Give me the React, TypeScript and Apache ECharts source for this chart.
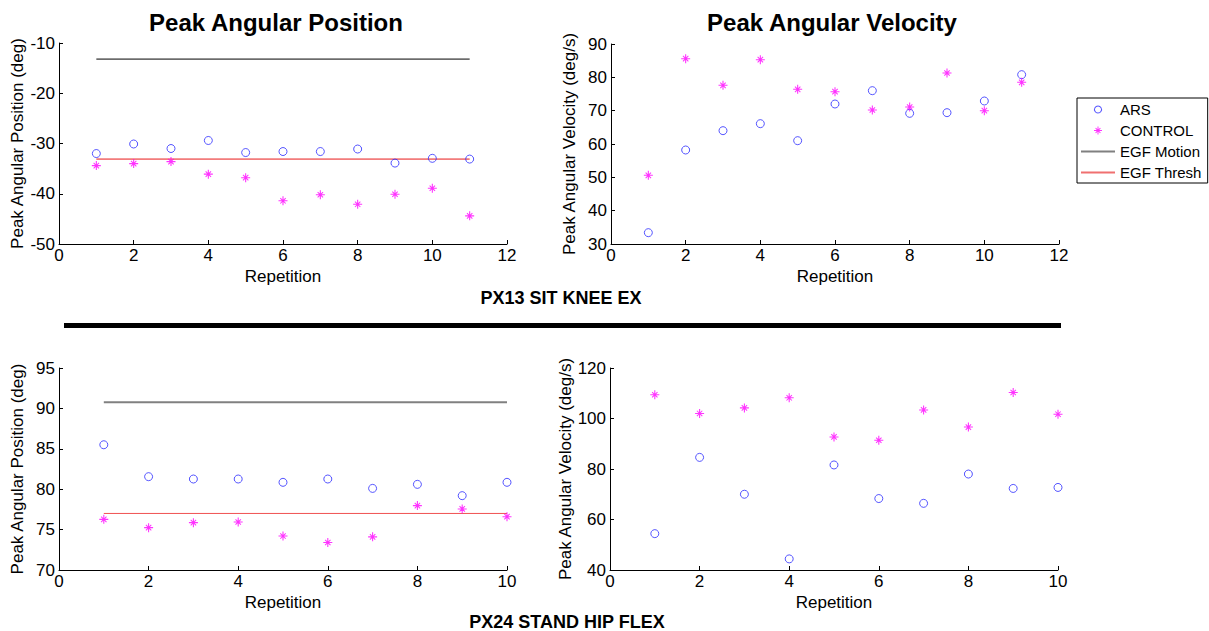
import React, { useEffect, useRef } from "react";
import * as echarts from "echarts";

const FONT = "Liberation Sans, Arial, sans-serif";

// Top: PX13 SIT KNEE EX (11 repetitions)
const repsTop = [1, 2, 3, 4, 5, 6, 7, 8, 9, 10, 11];
const posArsTop = [-32.0, -30.1, -31.0, -29.4, -31.8, -31.6, -31.6, -31.1, -33.9, -32.95, -33.1];
const posCtrlTop = [-34.4, -34.0, -33.6, -36.1, -36.8, -41.4, -40.2, -42.1, -40.1, -38.9, -44.4];
const velArsTop = [33.4, 58.2, 64.0, 66.1, 61.0, 72.0, 76.0, 69.2, 69.4, 72.9, 80.8];
const velCtrlTop = [50.6, 85.6, 77.6, 85.3, 76.4, 75.7, 70.2, 71.1, 81.3, 70.0, 78.5];
const motionTop = -13.2;
const threshTop = -33.1;

// Bottom: PX24 STAND HIP FLEX (10 repetitions)
const repsBot = [1, 2, 3, 4, 5, 6, 7, 8, 9, 10];
const posArsBot = [85.5, 81.55, 81.26, 81.26, 80.85, 81.26, 80.1, 80.6, 79.2, 80.85];
const posCtrlBot = [76.27, 75.24, 75.86, 75.94, 74.2, 73.4, 74.1, 77.97, 77.56, 76.6];
const velArsBot = [54.4, 84.6, 70.0, 44.4, 81.6, 68.3, 66.4, 78.0, 72.3, 72.7];
const velCtrlBot = [109.4, 102.0, 104.2, 108.2, 92.7, 91.4, 103.4, 96.6, 110.3, 101.7];
const motionBot = 90.75;
const threshBot = 77.0;

const ASTERISK =
  "path://M4.4,0L5.6,0L5.6,10L4.4,10ZM0,4.4L10,4.4L10,5.6L0,5.6ZM1.6,2.4L2.4,1.6L8.4,7.6L7.6,8.4ZM7.6,1.6L8.4,2.4L2.4,8.4L1.6,7.6Z";
const LINE_ICON = "path://M0,0L32,0L32,2L0,2Z";
const RING_ICON =
  "path://M5,0A5,5,0,1,1,4.99,0ZM5,1.2A3.8,3.8,0,1,0,5.01,1.2Z";

const pairs = (xs: number[], ys: number[]) => xs.map((x, i) => [x, ys[i]]);

export default function App() {
  const ref = useRef<HTMLDivElement>(null);
  useEffect(() => {
    if (!ref.current) return;
    const chart = echarts.init(ref.current, undefined, { renderer: "svg" });
    const grids = [
      { left: 59, top: 43, width: 448, height: 201 },
      { left: 611, top: 44, width: 448, height: 200 },
      { left: 59, top: 368, width: 448, height: 202 },
      { left: 610, top: 368, width: 448, height: 202 },
    ];
    const axisCommon = {
      axisLine: { show: true, onZero: false, lineStyle: { color: "#000", width: 1 } },
      axisTick: { show: true, inside: true, length: 4, lineStyle: { color: "#000" } },
      axisLabel: { color: "#000", fontSize: 17, fontFamily: FONT },
      splitLine: { show: false },
      nameTextStyle: { color: "#000", fontSize: 17, fontFamily: FONT },
    };
    const xAxes = [12, 12, 10, 10].map((max, i) => ({
      ...axisCommon,
      type: "value",
      gridIndex: i,
      min: 0,
      max,
      interval: 2,
      name: "Repetition",
      nameLocation: "middle",
      nameGap: 24,
      axisLabel: { ...axisCommon.axisLabel, margin: 3 },
    }));
    const yDefs = [
      { min: -50, max: -10, interval: 10, name: "Peak Angular Position (deg)" },
      { min: 30, max: 90, interval: 10, name: "Peak Angular Velocity (deg/s)" },
      { min: 70, max: 95, interval: 5, name: "Peak Angular Position (deg)" },
      { min: 40, max: 120, interval: 20, name: "Peak Angular Velocity (deg/s)" },
    ];
    const yAxes = yDefs.map((d, i) => ({
      ...axisCommon,
      type: "value",
      gridIndex: i,
      min: d.min,
      max: d.max,
      interval: d.interval,
      name: d.name,
      nameLocation: "middle",
      nameGap: 33,
      axisLabel: { ...axisCommon.axisLabel, margin: 4 },
    }));

    const ars = (i: number, xs: number[], ys: number[]) => ({
      name: "ARS",
      type: "scatter",
      xAxisIndex: i,
      yAxisIndex: i,
      symbol: "circle",
      symbolSize: 8,
      itemStyle: { color: "rgba(255,255,255,0)", borderColor: "#2b2bff", borderWidth: 1 },
      data: pairs(xs, ys),
      z: 3,
    });
    const ctrl = (i: number, xs: number[], ys: number[]) => ({
      name: "CONTROL",
      type: "scatter",
      xAxisIndex: i,
      yAxisIndex: i,
      symbol: ASTERISK,
      symbolSize: 9,
      itemStyle: { color: "#ff00ff" },
      data: pairs(xs, ys),
      z: 3,
    });
    const hline = (
      i: number,
      name: string,
      xs: number[],
      y: number,
      color: string,
      width: number
    ) => ({
      name,
      type: "line",
      xAxisIndex: i,
      yAxisIndex: i,
      symbol: "none",
      showSymbol: false,
      lineStyle: { color, width },
      itemStyle: { color },
      data: [
        [xs[0], y],
        [xs[xs.length - 1], y],
      ],
      z: 2,
    });

    const series = [
      ars(0, repsTop, posArsTop),
      ctrl(0, repsTop, posCtrlTop),
      hline(0, "EGF Motion", repsTop, motionTop, "#000000", 1),
      hline(0, "EGF Thresh", repsTop, threshTop, "#e81818", 1),
      ars(1, repsTop, velArsTop),
      ctrl(1, repsTop, velCtrlTop),
      ars(2, repsBot, posArsBot),
      ctrl(2, repsBot, posCtrlBot),
      hline(2, "EGF Motion", repsBot, motionBot, "#808080", 2),
      hline(2, "EGF Thresh", repsBot, threshBot, "#f05050", 1),
      ars(3, repsBot, velArsBot),
      ctrl(3, repsBot, velCtrlBot),
    ];

    const titleStyle = (text: string, size: number) => ({
      text,
      fontSize: size,
      fontWeight: "bold",
      fontFamily: FONT,
      fill: "#000",
      align: "center",
      verticalAlign: "middle",
    });

    chart.setOption({
      animation: false,
      backgroundColor: "#fff",
      grid: grids,
      xAxis: xAxes,
      yAxis: yAxes,
      legend: {
        orient: "vertical",
        left: 1077,
        top: 98,
        data: [
          { name: "ARS", icon: RING_ICON, itemStyle: { color: "#2b2bff", borderWidth: 0 } },
          { name: "CONTROL", icon: ASTERISK, itemStyle: { color: "#ff00ff" } },
          { name: "EGF Motion", icon: LINE_ICON, itemStyle: { color: "#808080" } },
          { name: "EGF Thresh", icon: LINE_ICON, itemStyle: { color: "#f07070" } },
        ],
        borderColor: "#000",
        borderWidth: 1,
        padding: [4, 6, 3, 4],
        itemWidth: 34,
        itemHeight: 8,
        itemGap: 6,
        selectedMode: false,
        textStyle: { color: "#000", fontSize: 15, fontFamily: FONT },
      },
      graphic: [
        { type: "text", x: 276, y: 22, style: titleStyle("Peak Angular Position", 24) },
        { type: "text", x: 832, y: 22, style: titleStyle("Peak Angular Velocity", 24) },
        { type: "text", x: 561, y: 298, style: titleStyle("PX13 SIT KNEE EX", 18) },
        {
          type: "rect",
          shape: { x: 64, y: 323, width: 997, height: 5 },
          style: { fill: "#000" },
        },
        { type: "text", x: 567, y: 622, style: titleStyle("PX24 STAND HIP FLEX", 18) },
      ],
      series,
    });
    return () => chart.dispose();
  }, []);
  return (
    <div
      ref={ref}
      style={{ position: "fixed", left: 0, top: 0, width: 1209, height: 631, background: "#fff" }}
    />
  );
}
